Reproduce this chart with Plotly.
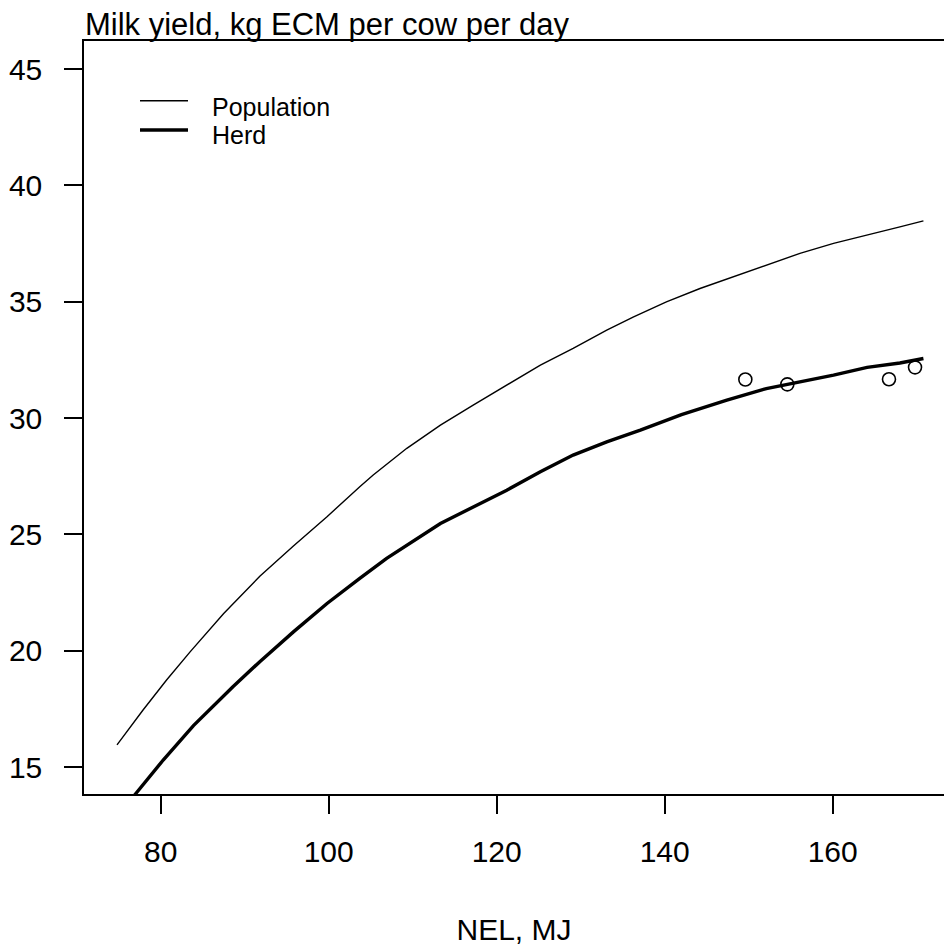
import plotly.graph_objects as go

# Population curve
pop_x = [74.8, 77.9, 80.7, 83.5, 87.5, 91.8, 95.8, 99.8, 103.7, 105.3, 109.3, 113.3,
         117.2, 121.2, 125.2, 129.1, 133.1, 136.3, 140.2, 144.2, 148.2, 152.1, 156.1,
         160.1, 164.1, 168.0, 170.8]
pop_y = [15.95, 17.45, 18.74, 19.95, 21.6, 23.2, 24.5, 25.76, 27.05, 27.55, 28.7, 29.7,
         30.56, 31.42, 32.28, 33.0, 33.78, 34.35, 35.0, 35.57, 36.07, 36.57, 37.08,
         37.51, 37.86, 38.22, 38.48]

# Herd curve
herd_x = [75.0, 76.9, 80.3, 83.9, 88.6, 91.8, 95.8, 99.8, 103.7, 106.9, 113.3, 117.2,
          121.2, 125.2, 129.1, 133.1, 137.1, 142.0, 147.4, 152.1, 156.1, 160.1, 164.1,
          168.0, 170.8]
herd_y = [12.9, 13.8, 15.3, 16.78, 18.45, 19.53, 20.81, 22.03, 23.11, 23.97, 25.47, 26.19,
          26.9, 27.69, 28.41, 28.98, 29.48, 30.15, 30.77, 31.27, 31.56, 31.85, 32.18,
          32.37, 32.56]

# Observed points
obs_x = [149.6, 154.6, 166.7, 169.8]
obs_y = [31.66, 31.45, 31.67, 32.18]

x_ticks = [80, 100, 120, 140, 160]
y_ticks = [15, 20, 25, 30, 35, 40, 45]

FONT = "Liberation Sans, Arial, Helvetica, sans-serif"

fig = go.Figure()
fig.add_trace(go.Scatter(x=pop_x, y=pop_y, mode="lines", name="Population",
                         line=dict(color="black", width=1.4), showlegend=False))
fig.add_trace(go.Scatter(x=herd_x, y=herd_y, mode="lines", name="Herd",
                         line=dict(color="black", width=3.4), showlegend=False))
fig.add_trace(go.Scatter(x=obs_x, y=obs_y, mode="markers", name="Observed",
                         marker=dict(symbol="circle-open", size=13, color="black",
                                     line=dict(width=1.6, color="black")),
                         showlegend=False))

W, H = 944, 948
ml, mr, mt, mb = 84, 0, 41, 154

fig.update_layout(
    width=W, height=H,
    margin=dict(l=ml, r=mr, t=mt, b=mb, pad=0),
    paper_bgcolor="white", plot_bgcolor="white",
    font=dict(family=FONT, color="black", size=30),
    xaxis=dict(range=[70.87, 173.25], tickvals=x_ticks, ticktext=[str(v) for v in x_ticks],
               showgrid=False, zeroline=False, showline=True, linecolor="black",
               linewidth=1.5, mirror=True, ticks="outside", ticklen=18, tickwidth=1.5,
               tickcolor="black", tickfont=dict(size=30, family=FONT),
               ticklabelstandoff=12,
               title=dict(text="NEL, MJ", font=dict(size=30, family=FONT), standoff=52)),
    yaxis=dict(range=[13.84, 46.21], tickvals=y_ticks, ticktext=[str(v) for v in y_ticks],
               showgrid=False, zeroline=False, showline=True, linecolor="black",
               linewidth=1.5, mirror=False, ticks="outside", ticklen=18, tickwidth=1.5,
               tickcolor="black", tickfont=dict(size=30, family=FONT),
               ticklabelstandoff=16),
)

def px2paper_x(px):
    return (px - ml) / (W - ml - mr)

def px2paper_y(py):
    return (H - mb - py) / (H - mt - mb)

# Title at top-left
fig.add_annotation(text="Milk yield, kg ECM per cow per day", xref="paper", yref="paper",
                   x=0, y=1, xanchor="left", yanchor="bottom", showarrow=False,
                   font=dict(size=31, family=FONT, color="black"), xshift=-1, yshift=-3)

# Legend (drawn manually)
fig.add_shape(type="line", xref="paper", yref="paper",
              x0=px2paper_x(140), x1=px2paper_x(188), y0=px2paper_y(100.7), y1=px2paper_y(100.7),
              line=dict(color="black", width=1.4))
fig.add_shape(type="line", xref="paper", yref="paper",
              x0=px2paper_x(140), x1=px2paper_x(188), y0=px2paper_y(130), y1=px2paper_y(130),
              line=dict(color="black", width=3.4))
fig.add_annotation(text="Population", xref="paper", yref="paper",
                   x=px2paper_x(210), y=px2paper_y(106.5), xanchor="left", yanchor="middle",
                   showarrow=False, font=dict(size=25, family=FONT, color="black"))
fig.add_annotation(text="Herd", xref="paper", yref="paper",
                   x=px2paper_x(210), y=px2paper_y(135), xanchor="left", yanchor="middle",
                   showarrow=False, font=dict(size=25, family=FONT, color="black"))

fig.write_html(
    "out.html",
    config={"displayModeBar": False},
    post_script="document.body.style.margin='0';document.body.style.overflow='hidden';",
)
